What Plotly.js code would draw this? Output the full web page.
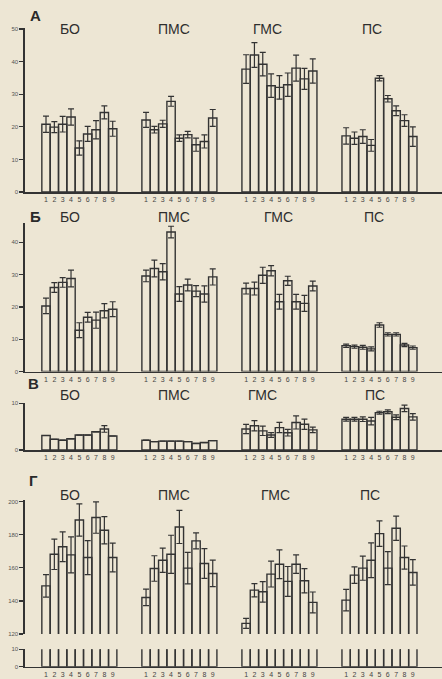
<!DOCTYPE html>
<html><head><meta charset="utf-8">
<script src="https://cdn.plot.ly/plotly-3.0.1.min.js"></script>
<style>html,body{margin:0;padding:0;background:#ede6d4}</style>
</head><body>
<div id="chart" style="width:442px;height:679px"></div>
<script>
// ---- data ----
const groups = ["БО", "ПМС", "ГМС", "ПС"];
const barLabels = ["1","2","3","4","5","6","7","8","9"];
const panelLetters = ["А", "Б", "В", "Г"];

// Panel А
const a_BO   = [20.8, 19.9, 20.8, 23.0, 13.5, 17.8, 19.1, 24.4, 19.4];
const a_BOe  = [2.5, 1.7, 2.4, 2.5, 2.2, 2.3, 2.8, 2.0, 2.3];
const a_PMS  = [22.1, 19.1, 20.9, 27.8, 16.5, 17.6, 14.5, 15.5, 22.7];
const a_PMSe = [2.3, 1.0, 1.1, 1.5, 1.0, 1.0, 2.0, 2.0, 2.6];
const a_GMS  = [37.7, 42.0, 39.2, 32.6, 32.1, 32.9, 38.0, 34.7, 37.1];
const a_GMSe = [4.4, 3.8, 3.6, 3.6, 3.6, 3.6, 4.0, 3.2, 3.7];
const a_PS   = [17.2, 16.5, 17.0, 14.3, 34.9, 28.6, 24.9, 21.9, 17.0];
const a_PSe  = [2.5, 1.9, 2.1, 1.8, 0.8, 1.0, 1.5, 1.8, 3.0];

// Panel Б
const b_BO   = [20.3, 26.0, 27.6, 28.8, 12.8, 16.8, 15.9, 18.8, 19.3];
const b_BOe  = [2.4, 1.5, 1.5, 2.6, 2.3, 1.5, 2.5, 2.2, 2.3];
const b_PMS  = [29.6, 31.9, 30.9, 43.2, 24.0, 26.8, 24.9, 24.0, 29.3];
const b_PMSe = [1.8, 2.6, 2.5, 1.8, 2.3, 1.8, 1.7, 2.5, 2.5];
const b_GMS  = [25.7, 25.7, 29.8, 31.2, 21.6, 28.1, 21.6, 21.1, 26.5];
const b_GMSe = [1.7, 2.0, 2.5, 1.6, 2.3, 1.4, 2.3, 2.5, 1.5];
const b_PS   = [8.0, 7.7, 7.5, 7.0, 14.4, 11.5, 11.5, 8.2, 7.4];
const b_PSe  = [0.5, 0.5, 0.6, 0.6, 0.7, 0.5, 0.5, 0.5, 0.5];

// Panel В
const c_BO   = [3.1, 2.3, 2.1, 2.4, 3.2, 3.2, 3.9, 4.5, 3.0];
const c_BOe  = [0, 0, 0, 0, 0, 0, 0, 0.7, 0];
const c_PMS  = [2.1, 1.8, 1.9, 1.9, 1.9, 1.8, 1.4, 1.6, 2.0];
const c_PMSe = [0, 0, 0, 0, 0, 0, 0, 0, 0];
const c_GMS  = [4.5, 5.2, 4.1, 3.2, 4.8, 3.7, 5.9, 5.5, 4.3];
const c_GMSe = [1.0, 1.1, 1.0, 0.5, 1.1, 0.7, 1.4, 1.1, 0.6];
const c_PS   = [6.6, 6.6, 6.6, 6.2, 8.0, 8.2, 7.0, 8.9, 7.1];
const c_PSe  = [0.4, 0.4, 0.5, 0.8, 0.3, 0.4, 0.5, 0.7, 0.7];

// Panel Г
const d_BO   = [149.1, 168.2, 172.7, 167.8, 188.9, 166.2, 190.4, 182.7, 166.2];
const d_BOe  = [6.8, 9.2, 9.0, 10.9, 9.7, 10.3, 9.5, 8.2, 8.7];
const d_PMS  = [142.1, 159.6, 164.6, 168.2, 184.7, 159.8, 176.3, 162.6, 156.6];
const d_PMSe = [5.0, 7.7, 7.3, 11.5, 10.0, 9.5, 4.8, 9.0, 8.0];
const d_GMS  = [126.4, 146.5, 145.5, 156.2, 162.2, 151.8, 162.2, 152.2, 139.1];
const d_GMSe = [3.0, 4.0, 6.2, 7.8, 8.7, 9.0, 5.6, 7.3, 6.3];
const d_PS   = [140.5, 155.6, 159.8, 164.6, 180.7, 159.8, 183.9, 166.2, 157.2];
const d_PSe  = [6.5, 5.0, 7.3, 10.5, 7.7, 10.0, 7.3, 7.0, 7.7];

// ---- build ----
const ink = '#333333';
const W = 442, H = 679;
const py = p => 1 - p / H;

const xpos = [];
const xtext = [];
groups.forEach((g, gi) => barLabels.forEach((b, bi) => { xpos.push(gi * 12 + bi + 1); xtext.push(b); }));

function panelTrace(vals, errs, xa, ya) {
  return {
    type: 'bar', x: xpos, y: [].concat(...vals), xaxis: xa, yaxis: ya,
    width: 1, marker: {color: 'rgba(0,0,0,0)', line: {color: ink, width: 1.4}},
    error_y: {type: 'data', array: [].concat(...errs), visible: true, color: ink, thickness: 1.2, width: 3},
    hoverinfo: 'skip', showlegend: false
  };
}

const traces = [
  panelTrace([a_BO, a_PMS, a_GMS, a_PS], [a_BOe, a_PMSe, a_GMSe, a_PSe], 'x', 'y'),
  panelTrace([b_BO, b_PMS, b_GMS, b_PS], [b_BOe, b_PMSe, b_GMSe, b_PSe], 'x2', 'y2'),
  panelTrace([c_BO, c_PMS, c_GMS, c_PS], [c_BOe, c_PMSe, c_GMSe, c_PSe], 'x3', 'y3'),
  panelTrace([d_BO, d_PMS, d_GMS, d_PS], [d_BOe, d_PMSe, d_GMSe, d_PSe], 'x4', 'y4'),
  panelTrace([d_BO, d_PMS, d_GMS, d_PS], [d_BOe, d_PMSe, d_GMSe, d_PSe], 'x4', 'y5')
];

const xdom = [25 / W, 1];
const xrange = [-1.52, 48.5];
function xax(anchor) {
  return {domain: xdom, range: xrange, anchor: anchor, showline: true, linecolor: ink, linewidth: 1.6,
    tickmode: 'array', tickvals: xpos, ticktext: xtext, ticks: '', showgrid: false, zeroline: false,
    tickfont: {family: 'Liberation Sans, Arial, sans-serif', size: 7, color: '#444'}, fixedrange: true};
}
function yax(anchor, dom, rng, tv) {
  return {domain: dom, range: rng, anchor: anchor, showline: true, linecolor: ink, linewidth: 1.6,
    tickmode: 'array', tickvals: tv, ticks: 'outside', ticklen: 4, tickcolor: ink, tickwidth: 1.2,
    showgrid: false, zeroline: false,
    tickfont: {family: 'Liberation Sans, Arial, sans-serif', size: 6, color: '#555'}, fixedrange: true};
}

const layout = {
  width: W, height: H, margin: {l: 0, r: 0, t: 0, b: 0},
  paper_bgcolor: '#ede6d4', plot_bgcolor: 'rgba(0,0,0,0)',
  bargap: 0, showlegend: false,
  xaxis: xax('y'),
  xaxis2: xax('y2'),
  xaxis3: xax('y3'),
  xaxis4: xax('y5'),
  yaxis: yax('x', [py(192), py(28)], [0, 50.3], [0, 10, 20, 30, 40, 50]),
  yaxis2: yax('x2', [py(371.5), py(223)], [0, 46], [0, 10, 20, 30, 40]),
  yaxis3: yax('x3', [py(450), py(403.3)], [0, 10], [0, 10]),
  yaxis4: yax('x4', [py(634), py(500)], [120, 201], [120, 140, 160, 180, 200]),
  yaxis5: yax('x4', [py(666.7), py(649.3)], [0, 10], [0, 10]),
  annotations: []
};

const labelFont = {family: 'Liberation Sans, Arial, sans-serif', size: 14, color: '#2e2e2e'};
const groupLabelX = [[3.9, 16.4, 27.6, 40.1], [3.9, 16.3, 28.9, 40.3], [3.9, 16.3, 27.0, 40.5], [3.9, 16.3, 28.5, 39.9]];
const groupLabelY = [29, 216.7, 395, 495];
const axisNames = ['x', 'x2', 'x3', 'x4'];
groupLabelY.forEach((yy, pi) => {
  groups.forEach((g, gi) => {
    layout.annotations.push({text: g, xref: axisNames[pi], yref: 'paper', x: groupLabelX[pi][gi], y: py(yy),
      showarrow: false, font: labelFont, xanchor: 'center', yanchor: 'middle'});
  });
});
const letterPos = [[35, 15], [35, 217], [33, 383], [33, 480]];
panelLetters.forEach((l, i) => {
  layout.annotations.push({text: '<b>' + l + '</b>', xref: 'paper', yref: 'paper', x: letterPos[i][0] / W, y: py(letterPos[i][1]),
    showarrow: false, font: {family: 'Liberation Sans, Arial, sans-serif', size: 15, color: '#2a2a2a'}, xanchor: 'center', yanchor: 'middle'});
});

Plotly.newPlot('chart', traces, layout, {staticPlot: true, displayModeBar: false});
</script>
</body></html>
